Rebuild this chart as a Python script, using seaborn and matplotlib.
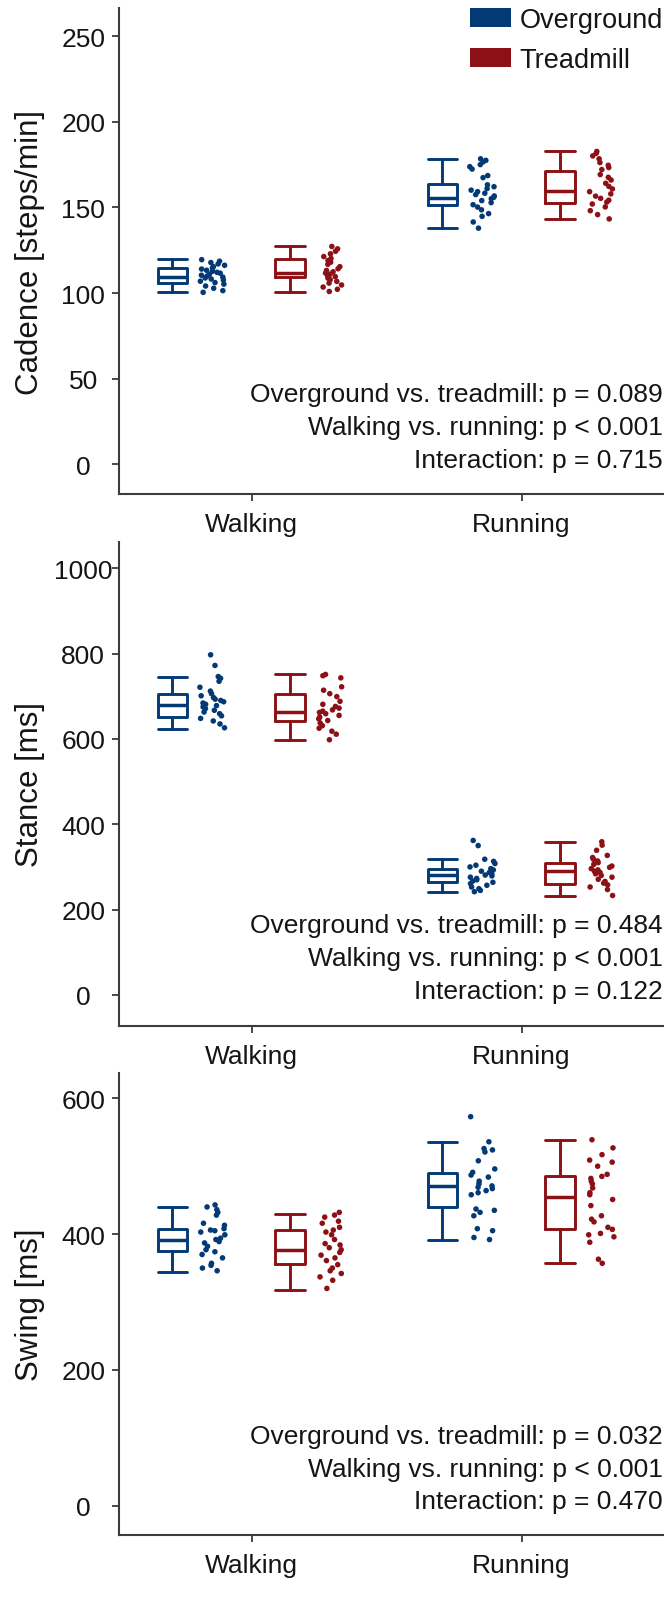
import numpy as np
import pandas as pd
import matplotlib
matplotlib.use("Agg")
import matplotlib.pyplot as plt
import seaborn as sns
from matplotlib.patches import Patch

# ---------------------------------------------------------------- data
modes = ["Walking", "Running"]
surfaces = ["Overground", "Treadmill"]
palette = {"Overground": "#033a76", "Treadmill": "#8c1116"}

# Cadence [steps/min], individual participants
cad_og_walk = [119.5, 118.6, 117.8, 117.0, 116.2, 115.4, 114.7, 114.0, 113.3, 112.7,
               112.1, 111.6, 111.0, 110.4, 109.9, 109.3, 108.8, 108.2, 107.6, 106.9,
               106.1, 105.2, 104.1, 102.8, 101.4, 100.4]
cad_tm_walk = [127.2, 125.8, 124.4, 122.9, 121.3, 120.2, 119.0, 118.0, 116.8, 115.4,
               114.2, 113.2, 112.4, 111.7, 111.0, 110.3, 109.6, 108.7, 107.8, 106.8,
               105.8, 104.7, 103.5, 102.2, 100.9]
cad_og_run = [178.4, 177.5, 176.6, 175.0, 173.8, 172.4, 168.6, 167.4, 163.2, 162.1,
              161.0, 160.1, 159.2, 158.3, 157.5, 156.7, 155.9, 155.1, 154.0, 152.8,
              151.6, 150.2, 148.6, 146.4, 144.8, 141.5, 137.9]
cad_tm_run = [182.7, 181.6, 180.1, 178.4, 176.2, 174.6, 173.3, 172.1, 169.2, 167.6,
              166.0, 164.1, 162.3, 160.8, 159.2, 157.9, 156.6, 155.3, 154.2, 153.1,
              152.0, 150.3, 148.1, 145.8, 143.3]

# Stance [ms]
st_og_walk = [797, 772, 746, 742, 735, 721, 712, 706, 701, 697, 693, 690, 687, 684,
              681, 678, 675, 671, 667, 663, 659, 654, 648, 642, 635, 626]
st_tm_walk = [751, 748, 743, 722, 714, 706, 699, 688, 681, 676, 672, 668, 665, 662,
              659, 655, 651, 647, 643, 637, 631, 625, 618, 611, 598]
st_og_run = [362, 350, 318, 313, 308, 304, 300, 296, 293, 290, 287, 284, 281, 279,
             276, 273, 270, 267, 264, 261, 257, 253, 249, 245, 242]
st_tm_run = [359, 351, 339, 327, 322, 318, 314, 310, 306, 302, 299, 296, 293, 290,
             287, 284, 280, 276, 271, 266, 262, 258, 253, 247, 233]

# Swing [ms]
sw_og_walk = [443, 440, 436, 432, 428, 416, 413, 408, 406, 405, 403, 399, 394, 392,
              389, 387, 382, 377, 374, 370, 365, 357, 354, 350, 346]
sw_tm_walk = [432, 428, 425, 419, 416, 410, 406, 403, 399, 392, 386, 384, 380, 377,
              373, 369, 365, 361, 355, 350, 346, 342, 337, 332, 320]
sw_og_run = [573, 536, 526, 524, 521, 508, 496, 491, 487, 484, 478, 474, 471, 469,
             467, 464, 461, 458, 437, 435, 432, 427, 408, 405, 395, 392]
sw_tm_run = [539, 527, 517, 509, 506, 500, 488, 485, 482, 478, 474, 468, 461, 458,
             451, 442, 427, 422, 418, 410, 407, 401, 399, 396, 388, 363, 357]

# Box summaries, order: OG walking, TM walking, OG running, TM running
cad_whislo = [100.4, 100.8, 137.8, 143.2]
cad_q1 = [106.0, 109.5, 151.6, 152.5]
cad_med = [109.5, 111.7, 155.5, 159.6]
cad_q3 = [114.4, 120.0, 163.8, 171.3]
cad_whishi = [119.7, 127.3, 178.4, 182.7]

st_whislo = [623, 597, 242, 233]
st_q1 = [652, 643, 264, 260]
st_med = [680, 663, 280, 291]
st_q3 = [704, 706, 294, 309]
st_whishi = [745, 751, 319, 358]

sw_whislo = [344, 318, 392, 357]
sw_q1 = [375, 356.5, 440, 408]
sw_med = [392, 377, 471, 454]
sw_q3 = [408, 406, 490, 485]
sw_whishi = [440, 430, 535, 539]

# ANOVA results
stat_labels = ["Overground vs. treadmill", "Walking vs. running", "Interaction"]
cad_p = ["p = 0.089", "p < 0.001", "p = 0.715"]
st_p = ["p = 0.484", "p < 0.001", "p = 0.122"]
sw_p = ["p = 0.032", "p < 0.001", "p = 0.470"]

cad_ticks = [0, 50, 100, 150, 200, 250]
st_ticks = [0, 200, 400, 600, 800, 1000]
sw_ticks = [0, 200, 400, 600]

# ---------------------------------------------------------------- style
sns.set_theme(style="ticks")
plt.rcParams["font.family"] = ["Liberation Sans", "DejaVu Sans"]
TXT = "#151515"
SPINE = "#3c3c3c"
plt.rcParams.update({
    "axes.edgecolor": SPINE,
    "axes.linewidth": 1.5,
    "xtick.color": SPINE,
    "ytick.color": SPINE,
    "xtick.labelcolor": TXT,
    "ytick.labelcolor": TXT,
    "text.color": TXT,
    "axes.labelcolor": TXT,
})

BOX_OFF = {"Overground": -0.293, "Treadmill": 0.142}
PT_OFF = {"Overground": -0.145, "Treadmill": 0.295}
BOX_W = 0.111
JITTER = 0.047
XLIM = (-0.49, 1.80)

FIG_W, FIG_H = 664, 1608
fig = plt.figure(figsize=(FIG_W / 100, FIG_H / 100), dpi=100)


def add_axes_px(left, top, bottom, width):
    return fig.add_axes([left / FIG_W, 1 - bottom / FIG_H,
                         width / FIG_W, (bottom - top) / FIG_H])


ax_w = (XLIM[1] - XLIM[0]) * 270
axes = [
    add_axes_px(119.3, 9.3, 494.7, ax_w),
    add_axes_px(119.3, 542.7, 1026.7, ax_w),
    add_axes_px(119.3, 1074.0, 1536.0, ax_w),
]

panels = [
    dict(points={("Overground", "Walking"): cad_og_walk, ("Treadmill", "Walking"): cad_tm_walk,
                 ("Overground", "Running"): cad_og_run, ("Treadmill", "Running"): cad_tm_run},
         box=(cad_whislo, cad_q1, cad_med, cad_q3, cad_whishi),
         ylabel="Cadence [steps/min]", ylim=(-17.2, 266.3), ticks=cad_ticks, p=cad_p),
    dict(points={("Overground", "Walking"): st_og_walk, ("Treadmill", "Walking"): st_tm_walk,
                 ("Overground", "Running"): st_og_run, ("Treadmill", "Running"): st_tm_run},
         box=(st_whislo, st_q1, st_med, st_q3, st_whishi),
         ylabel="Stance [ms]", ylim=(-72, 1062), ticks=st_ticks, p=st_p),
    dict(points={("Overground", "Walking"): sw_og_walk, ("Treadmill", "Walking"): sw_tm_walk,
                 ("Overground", "Running"): sw_og_run, ("Treadmill", "Running"): sw_tm_run},
         box=(sw_whislo, sw_q1, sw_med, sw_q3, sw_whishi),
         ylabel="Swing [ms]", ylim=(-43.2, 637.3), ticks=sw_ticks, p=sw_p),
]

np.random.seed(7)
box_keys = [("Overground", "Walking"), ("Treadmill", "Walking"),
            ("Overground", "Running"), ("Treadmill", "Running")]

for ax, pan in zip(axes, panels):
    rows = []
    for (surf, mode), vals in pan["points"].items():
        for v in vals:
            rows.append({"surface": surf, "mode": mode, "value": v,
                         "xpos": modes.index(mode) + PT_OFF[surf]})
    df = pd.DataFrame(rows)
    spacing = np.min(np.diff(np.unique(df["xpos"])))
    sns.stripplot(data=df, x="xpos", y="value", hue="surface", hue_order=surfaces,
                  palette=palette, native_scale=True, jitter=JITTER / spacing,
                  size=4.0, linewidth=0, legend=False, ax=ax, zorder=3)

    lo, q1, med, q3, hi = pan["box"]
    for surf in surfaces:
        stats, pos = [], []
        for i, (s, mode) in enumerate(box_keys):
            if s != surf:
                continue
            stats.append(dict(whislo=lo[i], q1=q1[i], med=med[i], q3=q3[i], whishi=hi[i]))
            pos.append(modes.index(mode) + BOX_OFF[surf])
        c = palette[surf]
        line = dict(color=c, linewidth=2.1)
        ax.bxp(stats, positions=pos, widths=BOX_W, capwidths=BOX_W, showfliers=False,
               manage_ticks=False, boxprops=line, whiskerprops=line, capprops=line,
               medianprops=dict(color=c, linewidth=2.5))

    ax.set_xlim(*XLIM)
    ax.set_ylim(*pan["ylim"])
    ax.set_xticks([0, 1], labels=modes, fontsize=19)
    ax.set_yticks(pan["ticks"], labels=[str(t) for t in pan["ticks"]], fontsize=19,
                  ha="center")
    ax.tick_params(axis="y", length=5, width=1.3, pad=21)
    ax.tick_params(axis="x", length=5, width=1.3, pad=8)
    ax.set_xlabel("")
    ax.set_ylabel(pan["ylabel"], fontsize=22.5)
    ax.yaxis.set_label_coords((45 - 119.3) / ax_w, 0.5)
    sns.despine(ax=ax)

    for k, (lab, pv) in enumerate(zip(stat_labels, pan["p"])):
        ax.annotate(f"{lab}: {pv}", xy=(1.522, 0), xycoords="data",
                    xytext=(0, [50.4, 26.6, 3.2][k]), textcoords="offset points",
                    ha="right", va="center", fontsize=19, color=TXT)

handles = [Patch(facecolor=palette[s], edgecolor="none", label=s) for s in surfaces]
axes[0].legend(handles=handles, loc="upper left", frameon=False, fontsize=19.5,
               bbox_to_anchor=(470 / FIG_W, 1 - 8 / FIG_H), bbox_transform=fig.transFigure,
               borderpad=0, borderaxespad=0, handlelength=1.51, handleheight=0.74,
               handletextpad=0.32, labelspacing=0.51)

fig.savefig("out.png", dpi=100)
